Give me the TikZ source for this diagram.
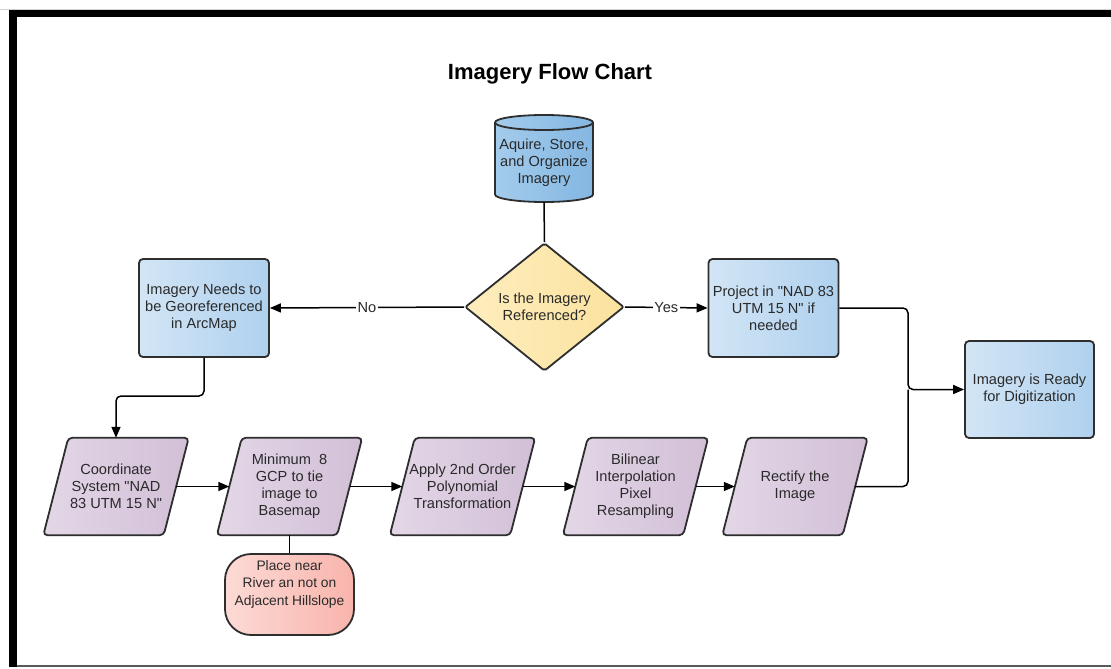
\documentclass[tikz,border=0pt]{standalone}
\usepackage{fontspec}
\setmainfont{Liberation Sans}[Ligatures=TeXOff]
\usetikzlibrary{shapes.geometric,arrows.meta,backgrounds}
\definecolor{boxA}{HTML}{D2E5F5}
\definecolor{boxB}{HTML}{AFD1EE}
\definecolor{cylA}{HTML}{A3CBEC}
\definecolor{cylB}{HTML}{84B7E2}
\definecolor{diaA}{HTML}{FEEDBD}
\definecolor{diaB}{HTML}{FBE29F}
\definecolor{parA}{HTML}{E3D7E7}
\definecolor{parB}{HTML}{D2BFD7}
\definecolor{plA}{HTML}{FDDAD5}
\definecolor{plB}{HTML}{F8B4AC}
\definecolor{edgec}{HTML}{2E2E2E}
\definecolor{txt}{HTML}{2A2A2A}
\newcommand\flowfont{\fontsize{14.6}{17}\selectfont}
\newcommand\placefont{\fontsize{13.8}{17.5}\selectfont}
\newcommand\parabg[1]{%
  \path[parshape] ([xshift=-12.5pt]#1.south west) -- ([xshift=-12.5pt]#1.south east)
    -- ([xshift=12.5pt]#1.north east) -- ([xshift=12.5pt]#1.north west) -- cycle;}
\begin{document}
\begin{tikzpicture}[x=1pt,y=1pt,
  base/.style={draw=edgec, line width=1.8pt, text=txt, align=center, font=\flowfont, inner sep=2pt},
  bluebox/.style={base, rectangle, rounded corners=4pt, minimum width=130pt, minimum height=98pt, left color=boxA, right color=boxB},
  decision/.style={base, diamond, rounded corners=2pt, minimum width=159pt, minimum height=128pt, inner sep=0pt, left color=diaA, right color=diaB},
  partext/.style={text=txt, align=center, font=\flowfont, minimum width=120pt, minimum height=97pt, inner sep=0pt},
  parshape/.style={draw=edgec, line width=1.8pt, rounded corners=4pt, left color=parA, right color=parB},
  placebox/.style={base, rectangle, rounded corners=26pt, minimum width=129pt, minimum height=81pt, font=\placefont, left color=plA, right color=plB},
  titlestyle/.style={text=black, font=\fontsize{22}{26}\selectfont\bfseries, inner sep=0pt},
  conn/.style={draw=black, line width=1.5pt},
  arr/.style={conn, -{Triangle[length=11pt,width=9pt]}},
  lab/.style={fill=white, inner sep=1.5pt, text=txt, font=\flowfont}
]
\useasboundingbox (0,0) rectangle (1111,-669);
% frame
\draw[gray!35, line width=0.8pt] (0,-9) -- (1111,-9);
\fill[black] (9,-10) rectangle (1111,-17.5);
\fill[black] (9,-10) rectangle (17,-667);
\draw[gray!70!black, line width=1.5pt] (17,-666) -- (1111,-666);
% title
\node[titlestyle] (title) at (550,-74) {Imagery Flow Chart};
% cylinder
\path[draw=edgec, line width=1.8pt, left color=cylA, right color=cylB]
  (495,-122.5) -- (495,-194.5) arc[start angle=180, end angle=360, x radius=49pt, y radius=7.5pt]
  -- (593,-122.5) arc[start angle=0, end angle=180, x radius=49pt, y radius=7.5pt] -- cycle;
\draw[edgec, line width=1.8pt] (495,-122.5) arc[start angle=180, end angle=360, x radius=49pt, y radius=7.5pt];
\node[partext, minimum width=98pt, minimum height=78pt] (cyl) at (544,-163) {Aquire, Store,\\and Organize\\Imagery};
% nodes
\node[decision] (dec) at (544.5,-307) {Is the Imagery\\Referenced?};
\node[bluebox] (need) at (204,-308) {Imagery Needs to\\be Georeferenced\\in ArcMap};
\node[bluebox] (proj) at (773.5,-308) {Project in "NAD 83\\UTM 15 N" if\\needed};
\node[bluebox, minimum width=129pt, minimum height=97pt] (ready) at (1029.5,-389.5) {Imagery is Ready\\for Digitization};
\node[partext] (p1) at (116,-486.5) {Coordinate\\System "NAD\\83 UTM 15 N"};
\node[partext] (p2) at (289.5,-486.5) {Minimum\ \ 8\\GCP to tie\\image to\\Basemap};
\node[partext] (p3) at (462.5,-486.5) {Apply 2nd Order\\Polynomial\\Transformation};
\node[partext] (p4) at (635.5,-486.5) {Bilinear\\Interpolation\\Pixel\\Resampling};
\node[partext] (p5) at (795,-486.5) {Rectify the\\Image};
\node[placebox] (place) at (289.5,-594.5) {Place near\\River an not on\\Adjacent Hillslope\\[6pt]\mbox{}};
\begin{scope}[on background layer]
  \fill[white] (0,0) rectangle (1111,-669);
  \parabg{p1}\parabg{p2}\parabg{p3}\parabg{p4}\parabg{p5}
\end{scope}
% connectors
\draw[conn] (cyl.south) -- (dec.north);
\draw[arr] (dec.west) -- node[lab]{No} (need.east);
\draw[arr] (dec.east) -- node[lab]{Yes} (proj.west);
\coordinate (j) at (908,-389.5);
\draw[arr, rounded corners=5pt] (proj.east) -| (j) -- (ready.west);
\draw[conn, rounded corners=5pt] (p5.east) -| (j);
\coordinate (k) at (160,-396);
\draw[arr, rounded corners=5pt] (need.south) |- (k) -| (p1.north);
\draw[arr] (p1.east) -- (p2.west);
\draw[arr] (p2.east) -- (p3.west);
\draw[arr] (p3.east) -- (p4.west);
\draw[arr] (p4.east) -- (p5.west);
\draw[conn] (p2.south) -- (place.north);
\end{tikzpicture}
\end{document}
